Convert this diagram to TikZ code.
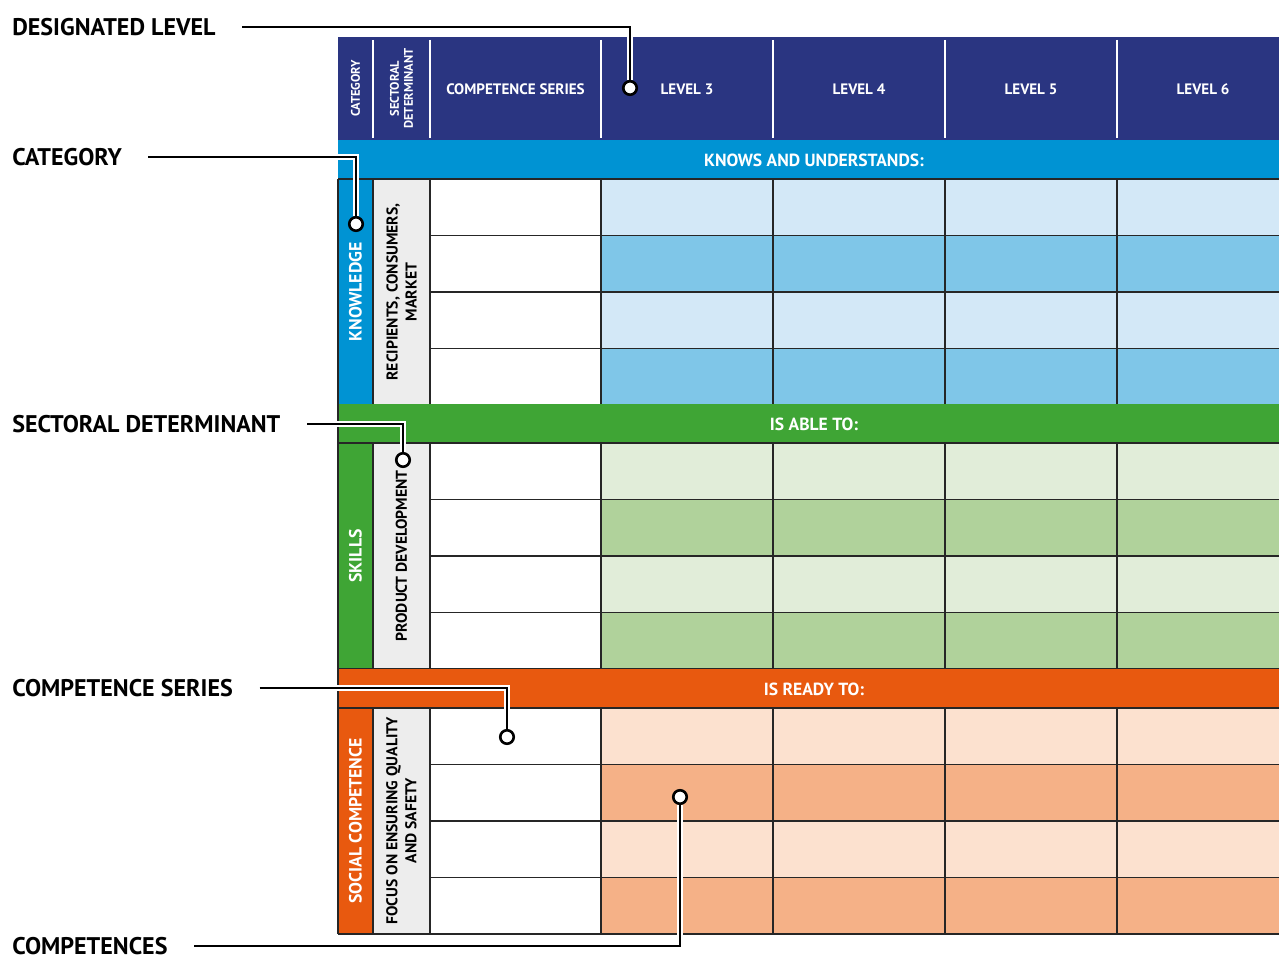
\documentclass[tikz,border=0pt]{standalone}
\usepackage{fontspec}
\setmainfont{PT Sans}
\usetikzlibrary{positioning}

\definecolor{hdrnavy}{HTML}{2A3581}
\definecolor{knowblue}{HTML}{0093D3}
\definecolor{knowlight}{HTML}{D3E8F7}
\definecolor{knowdark}{HTML}{7FC6E8}
\definecolor{skillgreen}{HTML}{3FA535}
\definecolor{skilllight}{HTML}{E1EDD9}
\definecolor{skilldark}{HTML}{B0D29B}
\definecolor{socorange}{HTML}{E8590F}
\definecolor{soclight}{HTML}{FCE1CF}
\definecolor{socdark}{HTML}{F5B187}
\definecolor{sectgray}{HTML}{EDEDED}

\begin{document}
\begin{tikzpicture}[x=0.02cm, y=-0.02cm,
        hdr/.style={text=white, font=\bfseries\fontsize{8.6}{9}\selectfont, inner sep=0pt},
        hdrsmall/.style={hdr, rotate=90, align=center, font=\bfseries\fontsize{7.1}{8}\selectfont},
        bandlbl/.style={text=white, font=\bfseries\fontsize{10}{10}\selectfont, inner sep=0pt},
        catlbl/.style={rotate=90, text=white, font=\bfseries\fontsize{10.1}{10}\selectfont, inner sep=0pt},
        sectlbl/.style={rotate=90, align=center, font=\bfseries\fontsize{8.9}{10.8}\selectfont, inner sep=0pt},
        cellline/.style={black!85, line width=0.9pt},
        callout/.style={line width=1.7pt, shorten <=15pt, preaction={draw=white, line width=3.5pt}},
        calloutlbl/.style={anchor=west, font=\bfseries\fontsize{13.7}{14}\selectfont, text height=9.6pt, text depth=0pt, inner sep=0pt},
        dot/.style={circle, draw=black, line width=1.5pt, fill=white, minimum size=0.27cm, inner sep=0pt},
    ]
    \useasboundingbox (0,0) rectangle (1279,956);

    % Header row
    \fill[hdrnavy] (338,37) rectangle (1279,140);
    \foreach \x in {373,430,601,773,945,1117}
        \draw[white, line width=0.8pt] (\x,40) -- (\x,138);
    \node[hdrsmall] (hcat) at (355.5,88.5) {CATEGORY};
    \node[hdrsmall] (hsect) at (401.5,88.5) {SECTORAL\\DETERMINANT};
    \node[hdr] (hseries) at (515.5,89.5) {COMPETENCE SERIES};
    \foreach \n/\x in {3/687,4/859,5/1031,6/1203}
        \node[hdr] (level\n) at (\x,89.5) {LEVEL \n};

    % Three sections: band, category, determinant, four rows of cells
    \foreach \t/\bandc/\lightc/\darkc/\bandtxt/\cattxt/\secttxt/\id in {
        140/knowblue/knowlight/knowdark/{KNOWS AND UNDERSTANDS:}/KNOWLEDGE/{RECIPIENTS, CONSUMERS,\\MARKET}/know,
        404/skillgreen/skilllight/skilldark/{IS ABLE TO:}/SKILLS/{PRODUCT DEVELOPMENT}/skill,
        669/socorange/soclight/socdark/{IS READY TO:}/{SOCIAL COMPETENCE}/{FOCUS ON ENSURING QUALITY\\AND SAFETY}/soc}{
        \pgfmathsetmacro\r{\t+39}
        \pgfmathsetmacro\b{\t+265}
        \pgfmathsetmacro\m{\t+152}
        \fill[\bandc] (338,\t) rectangle (1279,\r);
        \fill[\bandc] (338,\r) rectangle (373,\b);
        \fill[sectgray] (373,\r) rectangle (430,\b);
        \foreach \k/\c in {0/\lightc,1/\darkc,2/\lightc,3/\darkc}
            \fill[\c] (601,\r+56.5*\k) rectangle (1279,\r+56.5*\k+56.5);
        \foreach \k in {1,2,3}
            \draw[cellline] (430,\r+56.5*\k) -- (1279,\r+56.5*\k);
        \foreach \x in {373,430,601,773,945,1117}
            \draw[cellline] (\x,\r) -- (\x,\b);
        \draw[cellline, line width=1.2pt] (338,\r) -- (1279,\r) (338,\b) -- (1279,\b);
        \node[bandlbl] (\id band) at (814,\t+20.5) {\bandtxt};
        \node[catlbl] (\id cat) at (355.5,\m) {\cattxt};
        \node[sectlbl] (\id sect) at (401.5,\m) {\secttxt};
    }
    \draw[cellline, line width=1.3pt] (338,179) -- (338,934);

    % Callouts
    \node[calloutlbl] (lbllevel) at (12,27) {DESIGNATED LEVEL};
    \node[calloutlbl] (lblcat) at (12,157) {CATEGORY};
    \node[calloutlbl] (lblsect) at (12,424) {SECTORAL DETERMINANT};
    \node[calloutlbl] (lblseries) at (12,688) {COMPETENCE SERIES};
    \node[calloutlbl] (lblcomp) at (12,946) {COMPETENCES};

    \node[dot] (dotlevel) at (630,88) {};
    \node[dot] (dotcat) at (356,224) {};
    \node[dot] (dotsect) at (403,460) {};
    \node[dot] (dotseries) at (507,737) {};
    \node[dot] (dotcomp) at (680,797) {};

    \draw[callout] (lbllevel.east) -| (dotlevel);
    \draw[callout] (lblcat.east) -| (dotcat);
    \draw[callout] (lblsect.east) -| (dotsect);
    \draw[callout] (lblseries.east) -| (dotseries);
    \draw[callout] (lblcomp.east) -| (dotcomp);
\end{tikzpicture}
\end{document}
